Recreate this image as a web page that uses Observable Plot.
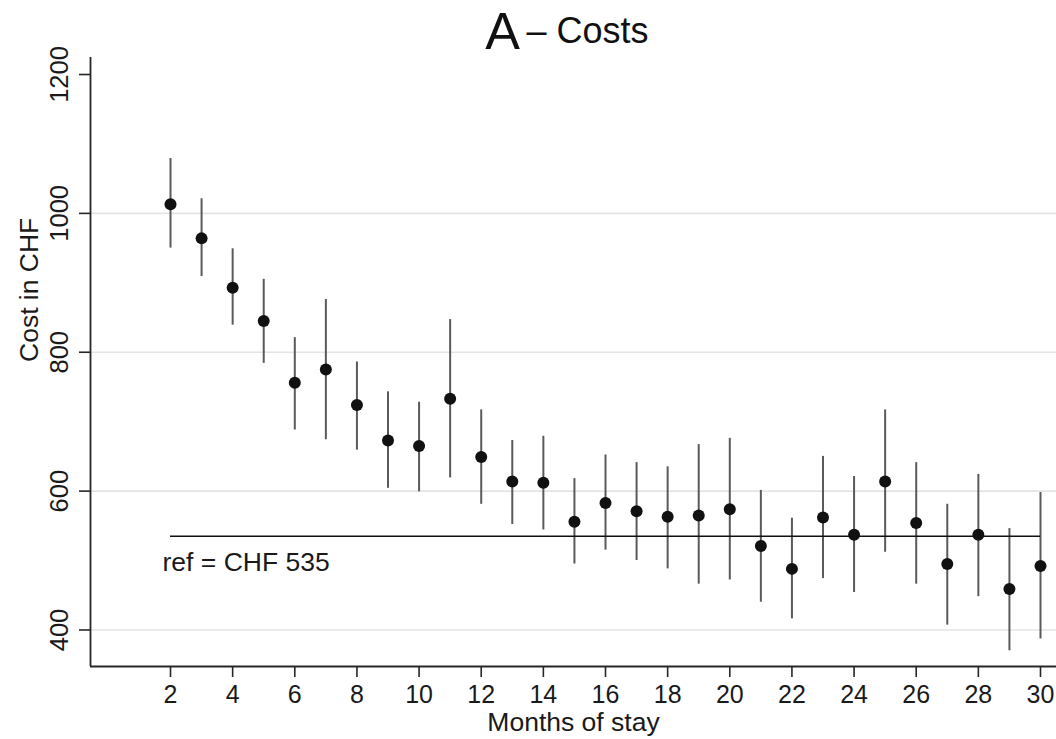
<!DOCTYPE html>
<html>
<head>
<meta charset="utf-8">
<script src="https://cdn.jsdelivr.net/npm/d3@7"></script>
<script src="https://cdn.jsdelivr.net/npm/@observablehq/plot@0.6"></script>
<style>
  html, body { margin: 0; padding: 0; background: #fff; }
  #chart { width: 1056px; height: 739px; }
</style>
</head>
<body>
<div id="chart"></div>
<script>
// ---- data ----
const months = [2,3,4,5,6,7,8,9,10,11,12,13,14,15,16,17,18,19,20,21,22,23,24,25,26,27,28,29,30];
const means  = [1013,964,893,845,756,775,724,673,665,733,649,614,612,556,583,571,563,565,574,521,488,562,537,614,554,495,537,459,492];
const lows   = [950,909,839,784,688,674,659,604,599,619,581,552,544,495,515,500,488,466,472,440,416,474,454,512,466,407,448,370,387];
const highs  = [1079,1021,949,905,821,876,786,743,728,847,717,673,679,618,652,641,635,667,676,601,561,650,621,717,641,581,624,546,598];
const xTicks = [2,4,6,8,10,12,14,16,18,20,22,24,26,28,30];
const yTicks = [400,600,800,1000,1200];
const gridValues = [400,600,800,1000];
const refValue = 535;
const titleLetter = "A";
const titleText = "– Costs";
const xLabel = "Months of stay";
const yLabel = "Cost in CHF";

const xDomain = [-0.575, 30.515];
const yDomain = [347.4, 1224.5];

const data = months.map((m, i) => ({month: m, mean: means[i], lo: lows[i], hi: highs[i]}));
const refLine = [{x1: months[0], x2: months[months.length - 1], y: refValue}];

const font = "'Liberation Sans', Arial, Helvetica, sans-serif";
const axisColor = "#262626";

const chart = Plot.plot({
  width: 1056,
  height: 739,
  marginLeft: 90,
  marginRight: 0,
  marginTop: 57,
  marginBottom: 73,
  style: {fontFamily: font, fontSize: "25px", color: "#1a1a1a", background: "#fff", overflow: "visible"},
  x: {domain: xDomain},
  y: {domain: yDomain},
  marks: [
    Plot.ruleY(gridValues, {stroke: "#e4e4e4", strokeWidth: 1.6}),
    Plot.ruleX(data, {x: "month", y1: "lo", y2: "hi", stroke: "#5a5a5a", strokeWidth: 2}),
    Plot.ruleY(refLine, {y: "y", x1: "x1", x2: "x2", stroke: "#111", strokeWidth: 1.6}),
    Plot.dot(data, {x: "month", y: "mean", r: 6, fill: "#111", stroke: "none"}),
    Plot.text(refLine, {x: "x1", y: "y", text: d => `ref = CHF ${d.y}`, textAnchor: "start", lineAnchor: "bottom", dx: -8, dy: 35, fontSize: 26.5, fill: "#1a1a1a"}),
    Plot.ruleX([xDomain[0]], {stroke: axisColor, strokeWidth: 1.8}),
    Plot.ruleY([yDomain[0]], {stroke: axisColor, strokeWidth: 1.8}),
    Plot.axisX({ticks: xTicks, tickFormat: d => String(d), tickSize: 11, tickPadding: 8, label: null, stroke: axisColor, strokeWidth: 1.6, fontSize: 25}),
    Plot.axisY({ticks: yTicks, tickFormat: d => String(d), tickSize: 11, tickPadding: 12, tickRotate: -90, label: null, stroke: axisColor, strokeWidth: 1.6, fontSize: 25.5}),
    Plot.text([xLabel], {text: d => d, frameAnchor: "bottom", lineAnchor: "bottom", dy: 64, fontSize: 26.5, fill: "#1a1a1a"}),
    Plot.text([yLabel], {text: d => d, frameAnchor: "left", rotate: -90, dx: -61, fontSize: 26.5, fill: "#1a1a1a"}),
    Plot.text([titleLetter], {text: d => d, frameAnchor: "top-left", textAnchor: "middle", lineAnchor: "bottom", dx: 412, dy: -9, fontSize: 52, fill: "#111"}),
    Plot.text([titleText], {text: d => d, frameAnchor: "top-left", textAnchor: "start", lineAnchor: "bottom", dx: 436, dy: -15, fontSize: 36, fill: "#111"})
  ]
});
document.getElementById("chart").appendChild(chart);
</script>
</body>
</html>
